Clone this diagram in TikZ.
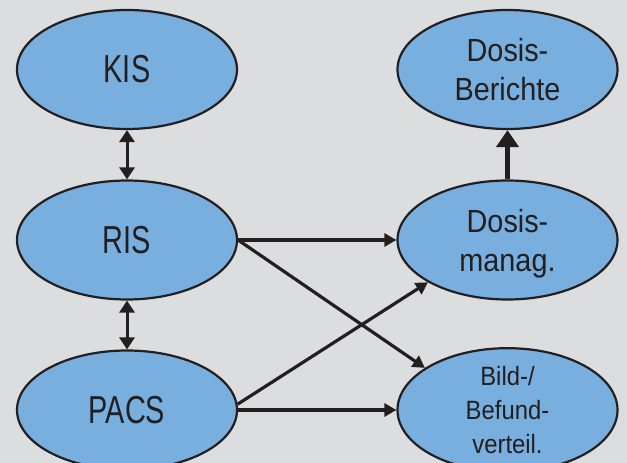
\documentclass[tikz,border=0pt]{standalone}
\usepackage{fontspec}
\setmainfont{Liberation Sans}[FakeStretch=0.9]
\newfontfamily\bigfont{Liberation Sans}[FakeStretch=0.74]
\usetikzlibrary{arrows.meta,shapes.geometric}
\definecolor{bg}{RGB}{220,221,223}
\definecolor{ellfill}{RGB}{120,175,223}
\definecolor{ink}{RGB}{35,31,32}
\begin{document}
\begin{tikzpicture}[x=1pt,y=-1pt,
  ell/.style={ellipse,draw=ink,line width=2.2pt,fill=ellfill,minimum width=220pt,minimum height=119pt,inner sep=0pt,text=ink,align=center},
  big/.style={font=\bigfont\fontsize{39}{44}\selectfont},
  mid/.style={font=\fontsize{32}{39}\selectfont},
  small/.style={font=\fontsize{26.5}{34}\selectfont},
  arr/.style={draw=ink,line width=3.2pt,-{Triangle[length=12pt,width=13pt]}},
  dbl/.style={draw=ink,line width=3pt,{Triangle[length=12pt,width=15pt]}-{Triangle[length=12pt,width=15pt]}},
  thick arr/.style={draw=ink,line width=5pt,-{Triangle[length=17pt,width=22pt]}}
]
\clip (0,0) rectangle (627,463);
\fill[bg] (0,0) rectangle (627,463);
\node[ell,big] (kis) at (127,69.5) {KIS};
\node[ell,big] (ris) at (127,240) {RIS};
\node[ell,big] (pacs) at (127,410) {PACS};
\node[ell,mid] (db) at (507.5,69.5) {Dosis-\\Berichte};
\node[ell,mid] (dm) at (507.5,240) {Dosis-\\\smash{manag.}};
\node[ell,small] (bild) at (507.5,410) {Bild-/\\Befund-\\verteil.};
\draw[dbl] (kis) -- (ris);
\draw[dbl] (ris) -- (pacs);
\draw[thick arr] (dm) -- (db);
\draw[arr] (ris.east) -- (dm.west);
\draw[arr] (ris.east) -- (bild.153);
\draw[arr] (pacs.3) -- (dm.208);
\draw[arr] (pacs.east) -- (bild.west);
\end{tikzpicture}
\end{document}
